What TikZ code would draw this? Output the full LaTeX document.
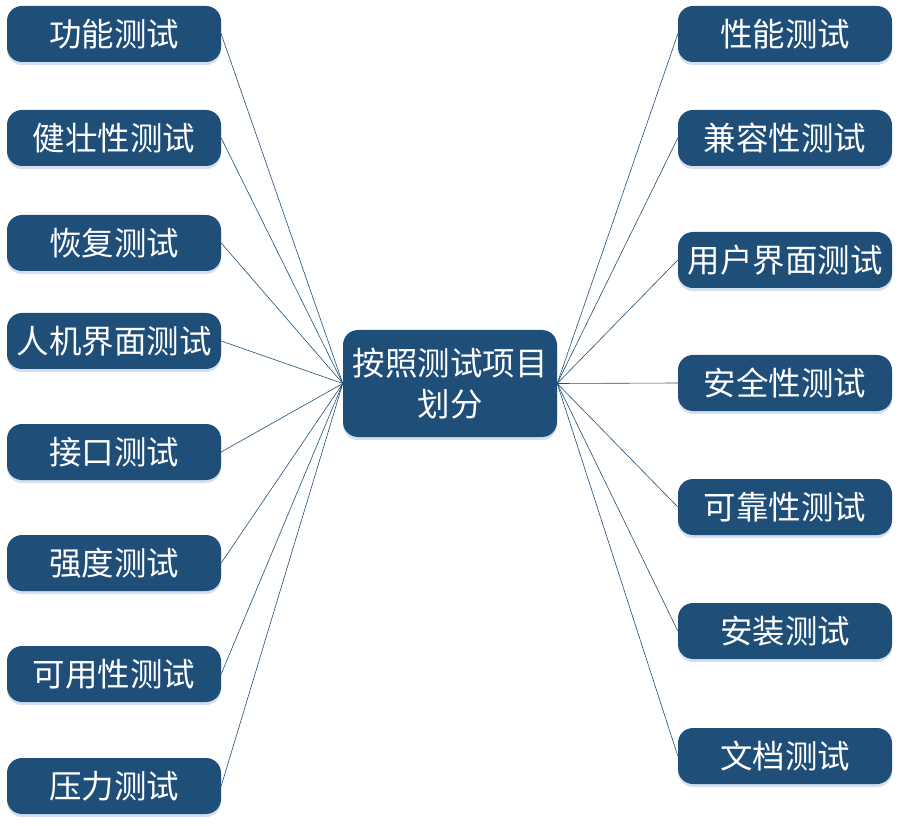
\documentclass[tikz,border=0pt]{standalone}
\usepackage{fontspec}
\newfontfamily\cjk{Noto Sans CJK SC}
\usetikzlibrary{shadows}
\definecolor{boxblue}{HTML}{1F4E79}
\definecolor{glowblue}{HTML}{BFD3E8}
\begin{document}
\begin{tikzpicture}[x=1pt,y=-1pt,
  item/.style={draw=none, fill=boxblue, text=white, rounded corners=15pt,
    minimum width=214pt, minimum height=56pt, inner sep=0pt,
    font=\cjk\fontsize{32.5}{38}\selectfont,
    drop shadow={shadow xshift=0pt, shadow yshift=-3pt, fill=glowblue, opacity=0.7}},
  hub/.style={item, minimum height=107pt, align=center,
    font=\cjk\fontsize{32.5}{41}\selectfont},
  link/.style={draw=boxblue, line width=0.6pt}]
\useasboundingbox (0,0) rectangle (900,826);

\node[hub] (c) at (450,383.5) {按照测试项目\\划分};

% left column
\node[item] (l1) at (114,34)  {功能测试};
\node[item] (l2) at (114,138) {健壮性测试};
\node[item] (l3) at (114,243) {恢复测试};
\node[item] (l4) at (114,341) {人机界面测试};
\node[item] (l5) at (114,452) {接口测试};
\node[item] (l6) at (114,563) {强度测试};
\node[item] (l7) at (114,674) {可用性测试};
\node[item] (l8) at (114,786) {压力测试};

% right column
\node[item] (r1) at (785,34)  {性能测试};
\node[item] (r2) at (785,138) {兼容性测试};
\node[item] (r3) at (785,260) {用户界面测试};
\node[item] (r4) at (785,383) {安全性测试};
\node[item] (r5) at (785,507) {可靠性测试};
\node[item] (r6) at (785,631) {安装测试};
\node[item] (r7) at (785,756) {文档测试};

\begin{scope}[on background layer/.try]
\foreach \n in {l1,l2,l3,l4,l5,l6,l7,l8}
  \draw[link] (\n.east) -- (c.west);
\foreach \n in {r1,r2,r3,r4,r5,r6,r7}
  \draw[link] (c.east) -- (\n.west);
\end{scope}
\end{tikzpicture}
\end{document}
